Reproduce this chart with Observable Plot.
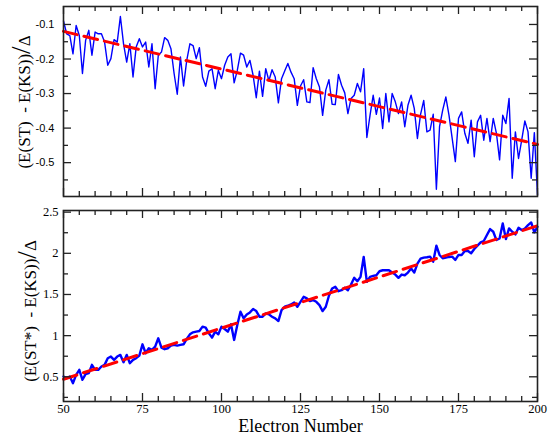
<!DOCTYPE html>
<html><head><meta charset="utf-8">
<script src="https://cdn.jsdelivr.net/npm/d3@7"></script>
<script src="https://cdn.jsdelivr.net/npm/@observablehq/plot@0.6"></script>
<style>
body{margin:0;background:#fff;}
#chart svg{display:block;}
</style></head><body><div id="chart"></div>
<script>
const electrons = d3.range(50, 201);
const stValues = [
 -0.090,-0.127,-0.132,-0.185,-0.103,-0.132,-0.242,-0.146,-0.117,-0.189,
 -0.122,-0.127,-0.127,-0.151,-0.218,-0.199,-0.144,-0.151,-0.077,-0.156,
 -0.209,-0.156,-0.252,-0.165,-0.141,-0.165,-0.151,-0.223,-0.156,-0.286,
 -0.189,-0.180,-0.138,-0.146,-0.170,-0.242,-0.302,-0.194,-0.278,-0.204,
 -0.156,-0.161,-0.199,-0.167,-0.252,-0.279,-0.235,-0.228,-0.286,-0.233,
 -0.257,-0.218,-0.194,-0.185,-0.269,-0.233,-0.183,-0.189,-0.223,-0.204,
 -0.247,-0.312,-0.235,-0.308,-0.228,-0.263,-0.231,-0.252,-0.327,-0.257,
 -0.235,-0.213,-0.238,-0.257,-0.334,-0.278,-0.260,-0.324,-0.326,-0.225,
 -0.257,-0.281,-0.363,-0.290,-0.260,-0.331,-0.332,-0.245,-0.276,-0.298,
 -0.358,-0.314,-0.305,-0.271,-0.295,-0.228,-0.427,-0.363,-0.305,-0.360,
 -0.313,-0.401,-0.300,-0.382,-0.300,-0.324,-0.358,-0.324,-0.396,-0.334,
 -0.305,-0.343,-0.430,-0.360,-0.320,-0.411,-0.406,-0.360,-0.577,-0.396,
 -0.348,-0.310,-0.363,-0.430,-0.497,-0.372,-0.353,-0.415,-0.444,-0.377,
 -0.483,-0.382,-0.363,-0.435,-0.372,-0.439,-0.372,-0.415,-0.492,-0.363,
 -0.387,-0.314,-0.545,-0.411,-0.488,-0.435,-0.379,-0.411,-0.545,-0.413,
 -0.593
];
const stStarValues = [
 0.504,0.484,0.504,0.423,0.524,0.585,0.464,0.532,0.544,0.645,
 0.585,0.585,0.625,0.645,0.726,0.746,0.706,0.746,0.766,0.677,
 0.766,0.665,0.706,0.726,0.758,0.895,0.786,0.847,0.827,0.867,
 0.968,0.855,0.835,0.847,0.879,0.887,0.879,0.887,0.895,0.960,
 1.016,1.040,1.048,1.056,1.109,1.097,1.028,0.976,1.048,1.016,
 1.109,1.081,1.048,1.137,0.948,1.129,1.290,1.210,1.258,1.282,
 1.323,1.298,1.230,1.230,1.270,1.258,1.230,1.210,1.177,1.310,
 1.351,1.363,1.379,1.403,1.351,1.411,1.472,1.452,1.419,1.431,
 1.411,1.371,1.298,1.351,1.484,1.573,1.593,1.540,1.552,1.581,
 1.552,1.621,1.702,1.661,1.714,1.956,1.653,1.714,1.726,1.734,
 1.782,1.794,1.794,1.794,1.766,1.742,1.702,1.742,1.734,1.766,
 1.815,1.766,1.875,1.935,1.948,1.952,1.960,1.899,2.093,1.980,
 1.940,1.948,1.956,1.960,1.919,1.980,1.980,2.028,2.028,2.000,
 2.052,2.093,2.133,2.149,2.222,2.294,2.262,2.161,2.181,2.363,
 2.173,2.302,2.262,2.230,2.310,2.282,2.302,2.343,2.375,2.254,
 2.323
];
const fitX = [50, 200];
const stFitY = [-0.120, -0.447];
const stStarFitY = [0.470, 2.335];

const xMajorTicks = [50, 75, 100, 125, 150, 175, 200];
const xMinorTicks = [55,60,65,70,80,85,90,95,105,110,115,120,130,135,140,145,155,160,165,170,180,185,190,195];
const yTopMajor = [-0.1, -0.2, -0.3, -0.4, -0.5];
const yTopMinor = [-0.15, -0.25, -0.35, -0.45, -0.55];
const yBotMajor = [0.5, 1, 1.5, 2, 2.5];
const yBotMinor = [0.25, 0.75, 1.25, 1.75, 2.25];
const yLabels = ["(E(ST)  - E(KS))", "(E(ST*)  - E(KS))"];
const xLabel = ["Electron Number"];

const W = 555, ML = 63, MR = 18;
const FW = W - ML - MR;

const topData = electrons.map((n, i) => ({n, v: stValues[i]}));
const botData = electrons.map((n, i) => ({n, v: stStarValues[i]}));
const topFit = fitX.map((n, i) => ({n, v: stFitY[i]}));
const botFit = fitX.map((n, i) => ({n, v: stStarFitY[i]}));

function frameTicks(yMaj, yMin, FH) {
  const M = 8, m = 5, s = {stroke: "#222", strokeWidth: 1.3};
  return [
    Plot.tickX(xMajorTicks, {x: d => d, insetBottom: FH - M, ...s}),
    Plot.tickX(xMajorTicks, {x: d => d, insetTop: FH - M, ...s}),
    Plot.tickX(xMinorTicks, {x: d => d, insetBottom: FH - m, ...s}),
    Plot.tickX(xMinorTicks, {x: d => d, insetTop: FH - m, ...s}),
    Plot.tickY(yMaj, {y: d => d, insetRight: FW - M, ...s}),
    Plot.tickY(yMaj, {y: d => d, insetLeft: FW - M, ...s}),
    Plot.tickY(yMin, {y: d => d, insetRight: FW - m, ...s}),
    Plot.tickY(yMin, {y: d => d, insetLeft: FW - m, ...s})
  ];
}

function addYLabel(svg, main, cx, cy) {
  const t = d3.select(svg).append("text")
    .attr("transform", `translate(${cx},${cy}) rotate(-90)`)
    .attr("text-anchor", "middle")
    .attr("font-family", "Liberation Serif")
    .attr("font-size", 17)
    .attr("fill", "#000")
    .style("white-space", "pre");
  t.append("tspan").text(main);
  t.append("tspan").attr("font-size", 27).text("/");
  t.append("tspan").text("Δ");
}

// Top panel
const topH = 200, topMT = 6, topMB = 4;
const topChart = Plot.plot({
  width: W, height: topH,
  marginLeft: ML, marginRight: MR, marginTop: topMT, marginBottom: topMB,
  style: {fontFamily: "Liberation Serif", fontSize: "12px", background: "white"},
  x: {domain: [50, 200], axis: null},
  y: {domain: [-0.598, -0.048], label: null},
  marks: [
    Plot.line(topData, {x: "n", y: "v", stroke: "#0000ff", strokeWidth: 1.4}),
    Plot.line(topFit, {x: "n", y: "v", stroke: "#ff0000", strokeWidth: 3, strokeDasharray: "14,7"}),
    ...frameTicks(yTopMajor, yTopMinor, topH - topMT - topMB),
    Plot.axisY(yTopMajor, {tickSize: 0, tickPadding: 9, fontSize: 11, fontFamily: "Liberation Sans", tickFormat: d => d.toFixed(1), label: null}),
    Plot.frame({stroke: "#222", strokeWidth: 1.6})
  ]
});
addYLabel(topChart, yLabels[0], 30, 102);

// Bottom panel
const botH = 236, botMT = 10, botMB = 35;
const botChart = Plot.plot({
  width: W, height: botH,
  marginLeft: ML, marginRight: MR, marginTop: botMT, marginBottom: botMB,
  style: {fontFamily: "Liberation Serif", fontSize: "12px", background: "white"},
  x: {domain: [50, 200], label: null},
  y: {domain: [0.2, 2.52], label: null},
  marks: [
    Plot.line(botData, {x: "n", y: "v", stroke: "#0000ff", strokeWidth: 2.4}),
    Plot.line(botFit, {x: "n", y: "v", stroke: "#ff0000", strokeWidth: 3, strokeDasharray: "14,7"}),
    ...frameTicks(yBotMajor, yBotMinor, botH - botMT - botMB),
    Plot.axisY(yBotMajor, {tickSize: 0, tickPadding: 5, fontSize: 12.5, fontFamily: "Liberation Serif", tickFormat: d => String(d), label: null}),
    Plot.axisX(xMajorTicks, {tickSize: 0, tickPadding: 3, fontSize: 12.5, fontFamily: "Liberation Serif", tickFormat: d => String(d), label: null}),
    Plot.text(xLabel, {frameAnchor: "bottom", dy: 24.5, lineAnchor: "middle", fontSize: 18, fontFamily: "Liberation Serif", fill: "#000"}),
    Plot.frame({stroke: "#222", strokeWidth: 1.6})
  ]
});
addYLabel(botChart, yLabels[1], 36, 111);

document.getElementById("chart").append(topChart, botChart);
</script></body></html>
